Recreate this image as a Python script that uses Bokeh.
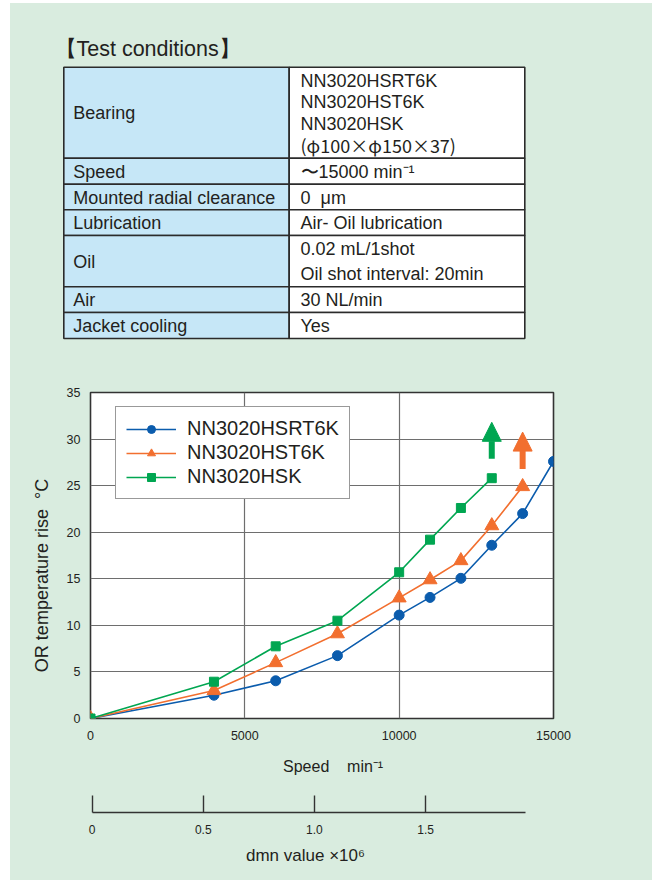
import numpy as np
from bokeh.plotting import figure
from bokeh.layouts import column
from bokeh.models import (Range1d, FixedTicker, Legend, LegendItem, Arrow,
                          NormalHead, ColumnDataSource)
from bokeh.core.properties import value
from bokeh.embed import file_html
from bokeh.resources import INLINE

# ---------------- data ----------------
speed = [0, 4000, 6000, 8000, 10000, 11000, 12000, 13000, 14000, 15000]
temp_hsrt6k = [0, 2.5, 4.05, 6.75, 11.1, 13.0, 15.05, 18.6, 22.0, 27.6]
speed_hst6k = [0, 4000, 6000, 8000, 10000, 11000, 12000, 13000, 14000]
temp_hst6k = [0, 3.0, 6.0, 9.1, 12.95, 14.9, 16.95, 20.7, 24.9]
speed_hsk = [0, 4000, 6000, 8000, 10000, 11000, 12000, 13000]
temp_hsk = [0, 3.95, 7.75, 10.5, 15.7, 19.2, 22.6, 25.8]
series_names = ["NN3020HSRT6K", "NN3020HST6K", "NN3020HSK"]

# "still rising" arrows: [HSK, HST6K]
arrow_speed = [13000, 14000]
arrow_from = [27.9, 26.8]
arrow_to = [31.8, 30.75]

x_ticks = [0, 5000, 10000, 15000]
y_ticks = [0, 5, 10, 15, 20, 25, 30, 35]
dmn_ticks = [0, 0.5, 1.0, 1.5]
dmn_tick_labels = ["0", "0.5", "1.0", "1.5"]
dmn_range = (-0.0072, 2.0756)
dmn_axis_end = 1.95

table_title = "【Test conditions】"
table_items = ["Bearing", "Speed", "Mounted radial clearance", "Lubrication",
               "Oil", "Air", "Jacket cooling"]
table_values = [["NN3020HSRT6K", "NN3020HST6K", "NN3020HSK", "(φ100×φ150×37)"],
                ["〜15000 min⁻¹"],
                ["0\u00a0 μm"],
                ["Air- Oil lubrication"],
                ["0.02 mL/1shot", "Oil shot interval: 20min"],
                ["30 NL/min"],
                ["Yes"]]
# lines that contain full-width symbols (φ, ×)
wide_symbol_lines = ["(φ100×φ150×37)"]

x_title = "\u00a0" * 5 + "Speed\u00a0\u00a0\u00a0\u00a0min⁻¹"
y_title = "OR temperature rise\u00a0\u00a0°C" + "\u00a0" * 8
dmn_title = "dmn value ×10⁶" + "\u00a0" * 7

# ---------------- styles ----------------
BG = "#d9ecdf"
CELL_BLUE = "#c6e7f7"
INK = "#231f20"
FONT = "Liberation Sans"
CJK_FONT = "Noto Sans CJK JP"
C_BLUE = "#0b5cad"
C_ORANGE = "#f26f2f"
C_GREEN = "#00a651"
W = 642
BL, BR = 80, 99

# ---------------- table figure ----------------
TH = 365
tp = figure(width=W, height=TH, x_range=Range1d(0, W), y_range=Range1d(TH, 0),
            output_backend="svg", toolbar_location=None, min_border=0,
            x_axis_location=None, y_axis_location=None,
            background_fill_color=BG, border_fill_color=BG, outline_line_color=None)
tp.xgrid.visible = False
tp.ygrid.visible = False

tab_left, tab_mid, tab_right, tab_top = 53.3, 278.7, 514.3, 63.7
row_heights = [91, 26, 25.6, 25.7, 51.3, 25.7, 26]
line_gaps = [21.5, 0, 0, 0, 24.4, 0, 0]
edges = tab_top + np.concatenate([[0], np.cumsum(row_heights)])
tops, bottoms = edges[:-1], edges[1:]
centers = (tops + bottoms) / 2

tp.quad(left=[tab_left] * 7, right=[tab_mid] * 7, top=tops, bottom=bottoms,
        fill_color=CELL_BLUE, line_color="#2b2b2b", line_width=1.6)
tp.quad(left=[tab_mid] * 7, right=[tab_right] * 7, top=tops, bottom=bottoms,
        fill_color="white", line_color="#2b2b2b", line_width=1.6)

tp.text(x=[tab_left + 9.4] * 7, y=list(centers + 0.5), text=table_items,
        text_font=value(FONT), text_font_size="18px", text_color=INK,
        text_baseline="middle", text_align="left")
vx, vy, vt, vf = [], [], [], []
for c, g, vals in zip(centers, line_gaps, table_values):
    n = len(vals)
    for i, t in enumerate(vals):
        vx.append(tab_mid + 11.3)
        vy.append(c + 0.5 + (i - (n - 1) / 2) * g)
        vt.append(t)
        vf.append(CJK_FONT if t in wide_symbol_lines else FONT)
vsrc = ColumnDataSource(dict(x=vx, y=vy, text=vt, font=vf))
tp.text(x="x", y="y", text="text", text_font="font", source=vsrc,
        text_font_size="18px", text_color=INK, text_baseline="middle",
        text_align="left")
tp.text(x=[44], y=[45], text=[table_title], text_font=value(FONT),
        text_font_size="21.5px", text_color=INK, text_baseline="middle",
        text_align="left")

# ---------------- chart figure ----------------
ch = figure(width=W, height=422, x_range=Range1d(0, 15000), y_range=Range1d(0, 35),
            min_border_left=BL, min_border_right=BR, min_border_top=24,
            min_border_bottom=72, background_fill_color="white",
            border_fill_color=BG, outline_line_color="#333333",
            outline_line_width=1.6, output_backend="svg", toolbar_location=None)

for ax in (ch.xaxis[0], ch.yaxis[0]):
    ax.axis_line_color = None
    ax.major_tick_in = 0
    ax.major_tick_out = 0
    ax.minor_tick_line_color = None
    ax.major_label_text_font = FONT
    ax.major_label_text_font_size = "12.5px"
    ax.major_label_text_color = INK
    ax.axis_label_text_font = FONT
    ax.axis_label_text_font_style = "normal"
    ax.axis_label_text_color = INK
ch.xaxis.ticker = FixedTicker(ticks=x_ticks)
ch.yaxis.ticker = FixedTicker(ticks=y_ticks)
ch.xaxis.major_label_standoff = 12
ch.yaxis.major_label_standoff = 10
ch.xaxis.axis_label = x_title
ch.yaxis.axis_label = y_title
ch.xaxis.axis_label_text_font_size = "16px"
ch.yaxis.axis_label_text_font_size = "18px"
ch.xaxis.axis_label_standoff = 15
ch.yaxis.axis_label_standoff = 12
ch.grid.grid_line_color = "#6e6e6e"
ch.grid.grid_line_width = 1.2

r1l = ch.line(speed, temp_hsrt6k, line_color=C_BLUE, line_width=1.6)
r2l = ch.line(speed_hst6k, temp_hst6k, line_color=C_ORANGE, line_width=1.6)
r3l = ch.line(speed_hsk, temp_hsk, line_color=C_GREEN, line_width=1.6)
r1m = ch.scatter(speed, temp_hsrt6k, marker="circle", size=10,
                 fill_color=C_BLUE, line_color=C_BLUE)
r2m = ch.scatter(speed_hst6k, temp_hst6k, marker="triangle", size=14,
                 fill_color=C_ORANGE, line_color=C_ORANGE)
r3m = ch.scatter(speed_hsk, temp_hsk, marker="square", size=9,
                 fill_color=C_GREEN, line_color=C_GREEN)

for xs, y0, y1, col in zip(arrow_speed, arrow_from, arrow_to, [C_GREEN, C_ORANGE]):
    ch.add_layout(Arrow(end=NormalHead(size=19, fill_color=col, line_color=col, line_width=1),
                        x_start=xs, y_start=y0, x_end=xs, y_end=y1,
                        line_color=col, line_width=6))

legend = Legend(items=[LegendItem(label=series_names[0], renderers=[r1l, r1m]),
                       LegendItem(label=series_names[1], renderers=[r2l, r2m]),
                       LegendItem(label=series_names[2], renderers=[r3l, r3m])],
                location=(25, 219), margin=0, padding=10, spacing=1,
                glyph_width=50, glyph_height=20, label_standoff=11,
                label_text_font=FONT, label_text_font_size="20px",
                label_text_color=INK, border_line_color="#333333",
                border_line_width=1.3, background_fill_color="white",
                background_fill_alpha=1.0)
ch.add_layout(legend)

# ---------------- dmn axis figure ----------------
DH = 90
dm = figure(width=W, height=DH, x_range=Range1d(*dmn_range), y_range=Range1d(0, 1),
            min_border_left=BL, min_border_right=BR, min_border_top=3,
            min_border_bottom=DH - 22, background_fill_color=BG, border_fill_color=BG,
            outline_line_color=None, y_axis_location=None,
            output_backend="svg", toolbar_location=None)
dm.xgrid.visible = False
dm.ygrid.visible = False
dax = dm.xaxis[0]
dax.bounds = (0, dmn_axis_end)
dax.ticker = FixedTicker(ticks=dmn_ticks)
dax.major_label_overrides = {t: l for t, l in zip(dmn_ticks, dmn_tick_labels)}
dax.major_tick_in = 17
dax.major_tick_out = 0
dax.minor_tick_line_color = None
dax.axis_line_color = "#333333"
dax.axis_line_width = 1.6
dax.major_tick_line_color = "#333333"
dax.major_tick_line_width = 1.4
dax.major_label_standoff = 12
dax.major_label_text_font = FONT
dax.major_label_text_font_size = "12px"
dax.major_label_text_color = INK
dax.axis_label = dmn_title
dax.axis_label_standoff = 9
dax.axis_label_text_font = FONT
dax.axis_label_text_font_style = "normal"
dax.axis_label_text_font_size = "17px"
dax.axis_label_text_color = INK

inner = column(ch, dm, spacing=0, styles={"background-color": BG})
p = column(tp, inner, spacing=0, margin=(3, 6, 0, 10),
           styles={"background-color": BG})
open("out.html", "w").write(file_html(p, INLINE))
